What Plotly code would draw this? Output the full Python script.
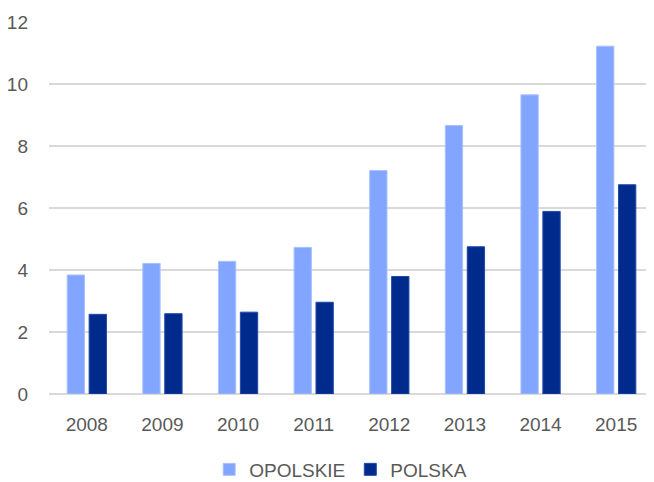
import plotly.graph_objects as go

years = ["2008", "2009", "2010", "2011", "2012", "2013", "2014", "2015"]
opolskie = [3.84, 4.21, 4.28, 4.73, 7.21, 8.66, 9.65, 11.22]
polska = [2.57, 2.59, 2.64, 2.96, 3.79, 4.75, 5.89, 6.75]
y_ticks = [0, 2, 4, 6, 8, 10, 12]

FONT = "Liberation Sans, Arial, sans-serif"
FS = 19

fig = go.Figure()
fig.add_trace(go.Bar(name="OPOLSKIE", x=years, y=opolskie,
                     marker=dict(color="#82A5FF", line=dict(color="#A9C2FF", width=1))))
fig.add_trace(go.Bar(name="POLSKA", x=years, y=polska,
                     marker=dict(color="#002A8C", line=dict(color="#1F4AA8", width=1))))

fig.update_layout(
    width=646, height=474,
    margin=dict(l=41, r=0, t=14, b=88, autoexpand=False),
    paper_bgcolor="white", plot_bgcolor="white",
    barmode="group", bargap=0.42, bargroupgap=0.21,
    font=dict(family=FONT, size=FS, color="#595959"),
    showlegend=True,
    legend=dict(orientation="h", xref="container", yref="paper",
                x=0.515, xanchor="center", y=-0.203, yanchor="middle",
                font=dict(family=FONT, size=FS, color="#595959"),
                traceorder="normal"),
)
fig.update_xaxes(showgrid=False, showline=False, ticks="", range=[-0.5, 7.5],
                 automargin=False, ticklabelstandoff=17,
                 tickfont=dict(family=FONT, size=FS, color="#595959"))
fig.update_yaxes(range=[0, 12], tickvals=y_ticks, showgrid=True, gridcolor="#D9D9D9",
                 gridwidth=1.5, zeroline=True, zerolinecolor="#D9D9D9", zerolinewidth=1.5,
                 showline=False, ticks="", ticklabelstandoff=20, automargin=False,
                 tickfont=dict(family=FONT, size=FS, color="#595959"))

fig.write_html("out.html")
